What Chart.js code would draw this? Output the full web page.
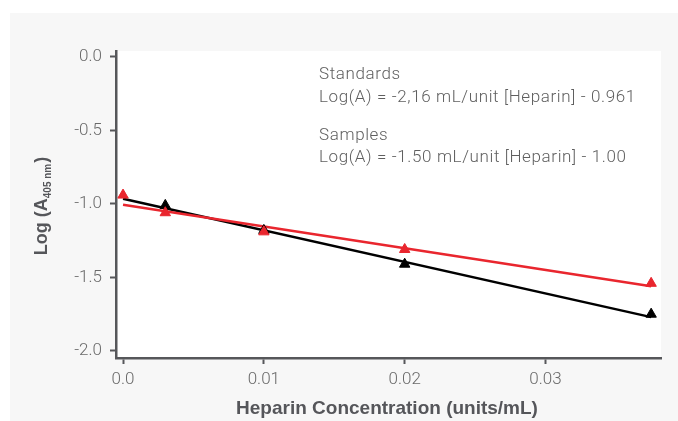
<!DOCTYPE html>
<html>
<head>
<meta charset="utf-8">
<script src="https://cdn.jsdelivr.net/npm/chart.js@4"></script>
<style>
html,body{margin:0;padding:0;background:#fff;}
#wrap{position:relative;width:678px;height:421px;}
</style>
</head>
<body>
<div id="wrap"><canvas id="c" width="678" height="421"></canvas></div>
<script>
// ---- data ----
const xTickValues = [0, 0.01, 0.02, 0.03];
const xTickLabels = ['0.0', '0.01', '0.02', '0.03'];
const yTickValues = [0, -0.5, -1.0, -1.5, -2.0];
const yTickLabels = ['0.0', '-0.5', '-1.0', '-1.5', '-2.0'];

const standardsX = [0.003, 0.01, 0.02, 0.0375];
const standardsY = [-1.01, -1.18, -1.41, -1.75];
const samplesX = [0, 0.003, 0.01, 0.02, 0.0375];
const samplesY = [-0.94, -1.06, -1.19, -1.31, -1.54];

const fitX = [0, 0.0375];
const standardsFitY = [-0.965, -1.77];
const samplesFitY = [-1.005, -1.56];

const annotationLines = [
  'Standards',
  'Log(A) = -2,16 mL/unit [Heparin] - 0.961',
  'Samples',
  'Log(A) = -1.50 mL/unit [Heparin] - 1.00'
];
const xTitle = 'Heparin Concentration (units/mL)';
const yTitleMain = 'Log (A';
const yTitleSub = '405 nm';
const yTitleEnd = ')';

// ---- helpers ----
const pts = (xs, ys) => xs.map((x, i) => ({x: x, y: ys[i]}));
const RED = '#e9262e';
const AXIS = '#56575a';
const TXT = '#6a6a6a';
const BOLD = '"Liberation Sans", Arial, sans-serif';

const bgPlugin = {
  id: 'bg',
  beforeDraw(chart) {
    const ctx = chart.ctx, a = chart.chartArea;
    ctx.save();
    ctx.fillStyle = '#f7f7f7';
    ctx.fillRect(10, 13, 668, 408);
    ctx.fillStyle = '#ffffff';
    ctx.fillRect(a.left, a.top, a.right - a.left, a.bottom - a.top);
    ctx.restore();
  },
  afterDraw(chart) {
    const ctx = chart.ctx;
    ctx.save();
    // annotations (light face, spaced to the reference width)
    ctx.fillStyle = '#5f5f5f';
    ctx.font = '300 17px Roboto, "Liberation Sans", sans-serif';
    ctx.textBaseline = 'middle';
    ctx.textAlign = 'left';
    const longest = annotationLines[1];
    const w0 = ctx.measureText(longest).width;
    const sp = Math.max(0, (317 - w0) / longest.length);
    ctx.letterSpacing = sp.toFixed(2) + 'px';
    const ys = [75, 98, 136, 158];
    annotationLines.forEach((t, i) => ctx.fillText(t, 319, ys[i]));
    ctx.letterSpacing = '0px';
    // x title
    ctx.fillStyle = '#55565a';
    ctx.font = 'bold 19px ' + BOLD;
    ctx.textAlign = 'center';
    ctx.fillText(xTitle, 387, 409);
    // y title rotated with subscript
    ctx.translate(42, 206);
    ctx.rotate(-Math.PI / 2);
    ctx.font = 'bold 18px ' + BOLD;
    const w1 = ctx.measureText(yTitleMain).width;
    const w3 = ctx.measureText(yTitleEnd).width;
    ctx.font = 'bold 10px ' + BOLD;
    const w2 = ctx.measureText(yTitleSub).width;
    const total = w1 + w2 + w3 + 1;
    let x = -total / 2;
    ctx.textAlign = 'left';
    ctx.font = 'bold 18px ' + BOLD;
    ctx.fillText(yTitleMain, x, 0);
    x += w1;
    ctx.font = 'bold 10px ' + BOLD;
    ctx.fillText(yTitleSub, x, 6);
    x += w2 + 1;
    ctx.font = 'bold 18px ' + BOLD;
    ctx.fillText(yTitleEnd, x, 0);
    ctx.restore();
  }
};

new Chart(document.getElementById('c'), {
  type: 'scatter',
  data: {
    datasets: [
      {data: pts(fitX, standardsFitY), showLine: true, borderColor: '#000', borderWidth: 2.5, pointRadius: 0, order: 4},
      {data: pts(fitX, samplesFitY), showLine: true, borderColor: RED, borderWidth: 2.5, pointRadius: 0, order: 3},
      {data: pts(standardsX, standardsY), showLine: false, pointStyle: 'triangle', pointRadius: 6,
       backgroundColor: '#000', borderColor: '#000', borderWidth: 1, order: 2},
      {data: pts(samplesX, samplesY), showLine: false, pointStyle: 'triangle', pointRadius: 6,
       backgroundColor: RED, borderColor: RED, borderWidth: 1, order: 1}
    ]
  },
  options: {
    responsive: false,
    animation: false,
    events: [],
    layout: {padding: {left: 10, top: 51, right: 17, bottom: 0}},
    plugins: {legend: {display: false}, tooltip: {enabled: false}},
    scales: {
      x: {
        type: 'linear',
        min: -0.0005, max: 0.0382,
        afterBuildTicks(s) { s.ticks = xTickValues.map(v => ({value: v})); },
        afterFit(s) { s.height = 63; },
        ticks: {
          callback(v) { const i = xTickValues.indexOf(v); return i >= 0 ? xTickLabels[i] : ''; },
          color: TXT, font: {family: 'Roboto, "Liberation Sans", sans-serif', size: 17, weight: 300},
          padding: 6, maxRotation: 0, autoSkip: false
        },
        grid: {display: true, drawOnChartArea: false, drawTicks: true, tickLength: 6, tickColor: AXIS, tickWidth: 2},
        border: {display: true, color: AXIS, width: 2.5}
      },
      y: {
        type: 'linear',
        min: -2.048, max: 0.04,
        afterBuildTicks(s) { s.ticks = yTickValues.map(v => ({value: v})); },
        afterFit(s) { s.width = 106; },
        ticks: {
          callback(v) { const i = yTickValues.findIndex(t => Math.abs(t - v) < 1e-9); return i >= 0 ? yTickLabels[i] : ''; },
          color: TXT, font: {family: 'Roboto, "Liberation Sans", sans-serif', size: 17, weight: 300},
          padding: 8, autoSkip: false
        },
        grid: {display: true, drawOnChartArea: false, drawTicks: true, tickLength: 6, tickColor: AXIS, tickWidth: 2},
        border: {display: true, color: AXIS, width: 2.5}
      }
    }
  },
  plugins: [bgPlugin]
});
</script>
</body>
</html>
